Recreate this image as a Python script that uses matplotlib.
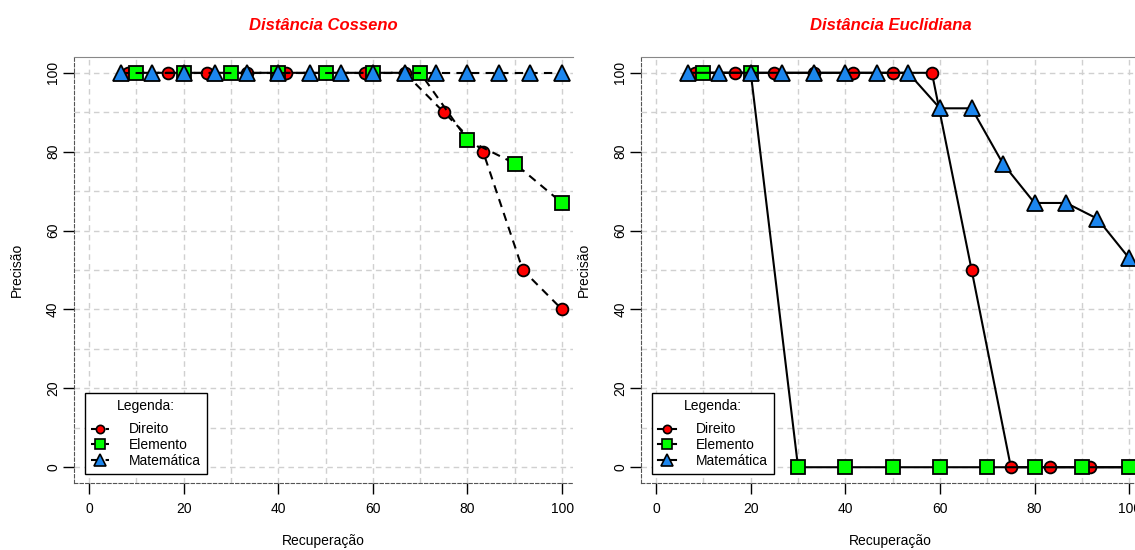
import matplotlib
matplotlib.use("Agg")
import matplotlib.pyplot as plt
from matplotlib.lines import Line2D

plt.rcParams['font.family'] = ['Liberation Sans', 'DejaVu Sans']

# recall (%) points for each class
rec_direito = [8.3, 16.7, 25, 33.3, 41.7, 50, 58.3, 66.7, 75, 83.3, 91.7, 100]
rec_elemento = [10, 20, 30, 40, 50, 60, 70, 80, 90, 100]
rec_matematica = [6.7, 13.3, 20, 26.7, 33.3, 40, 46.7, 53.3, 60, 66.7, 73.3,
                  80, 86.7, 93.3, 100]

# precision (%) - cosine distance
cos_direito = [100, 100, 100, 100, 100, 100, 100, 100, 90, 80, 50, 40]
cos_elemento = [100, 100, 100, 100, 100, 100, 100, 83, 77, 67]
cos_matematica = [100, 100, 100, 100, 100, 100, 100, 100, 100, 100, 100, 100,
                  100, 100, 100]

# precision (%) - euclidean distance
euc_direito = [100, 100, 100, 100, 100, 100, 100, 50, 0, 0, 0, 0]
euc_elemento = [100, 100, 0, 0, 0, 0, 0, 0, 0, 0]
euc_matematica = [100, 100, 100, 100, 100, 100, 100, 100, 91, 91, 77, 67, 67,
                  63, 53]

titulos = ["Distância Cosseno", "Distância Euclidiana"]
nomes = ["Direito", "Elemento", "Matemática"]
ticks = [0, 20, 40, 60, 80, 100]

cores = ["#FF0000", "#00FF00", "#1C86EE"]
marcas = ["o", "s", "^"]
tamanhos = [8.5, 9.5, 12]


def painel(ax, series, titulo, estilo):
    for (x, y), cor, m, ms in zip(series, cores, marcas, tamanhos):
        ax.plot(x, y, color="black", linestyle=estilo, lw=1.5,
                marker=m, ms=ms, mfc=cor, mec="black", mew=1.3)
    ax.set_xlim(-3.2, 102.3)
    ax.set_ylim(-4, 104)
    ax.set_xticks(ticks)
    ax.set_yticks(ticks)
    ax.set_xticks(range(0, 101, 10), minor=True)
    ax.set_yticks(range(0, 101, 10), minor=True)
    ax.grid(which="both", color="#D0D0D0", linestyle=(0, (4, 3)), lw=1)
    ax.tick_params(which="minor", length=0)
    ax.tick_params(which="major", length=8, width=1, labelsize=10,
                   color="black")
    ax.tick_params(axis="x", pad=6)
    ax.tick_params(axis="y", pad=2)
    for lab in ax.get_yticklabels():
        lab.set_rotation(90)
        lab.set_va("center")
    ax.spines["right"].set_visible(False)
    ax.spines["top"].set_color("#888888")
    for s in ["left", "bottom"]:
        ax.spines[s].set_color("#555555")
        ax.spines[s].set_linestyle((0, (3, 2)))
    ax.text(0.5, 1.073, titulo, transform=ax.transAxes, ha="center",
            va="center", color="#FF0000", fontsize=12, fontweight="bold",
            fontstyle="italic")
    ax.text(0.5, -0.136, "Recuperação", transform=ax.transAxes,
            ha="center", va="center", fontsize=10)
    ax.text(-0.114, 0.5, "Precisão", transform=ax.transAxes, rotation=90,
            ha="center", va="center", fontsize=10)
    handles = [Line2D([], [], color="black", linestyle=estilo, lw=1.5,
                      marker=m, ms=ms * 0.7, mfc=cor, mec="black", mew=1.2)
               for cor, m, ms in zip(cores, marcas, tamanhos)]
    leg = ax.legend(handles, nomes, title="Legenda:", loc="lower left",
                    bbox_to_anchor=(0.022, 0.021), borderaxespad=0,
                    fontsize=10, title_fontsize=10, handlelength=1.3,
                    handletextpad=1.4, labelspacing=0.12, borderpad=0.45,
                    fancybox=False, framealpha=1, edgecolor="black")
    leg.get_frame().set_linewidth(1)
    # more room between the legend title and its entries
    leg._legend_box.sep = 7


fig = plt.figure(figsize=(11.35, 5.5), dpi=100)
ax1 = fig.add_axes([0.0652, 0.1218, 0.4396, 0.7745])
ax2 = fig.add_axes([0.5648, 0.1218, 0.4396, 0.7745])

painel(ax1, [(rec_direito, cos_direito), (rec_elemento, cos_elemento),
             (rec_matematica, cos_matematica)], titulos[0], (0, (4, 3)))
painel(ax2, [(rec_direito, euc_direito), (rec_elemento, euc_elemento),
             (rec_matematica, euc_matematica)], titulos[1], "-")

fig.savefig("out.png", dpi=100)
